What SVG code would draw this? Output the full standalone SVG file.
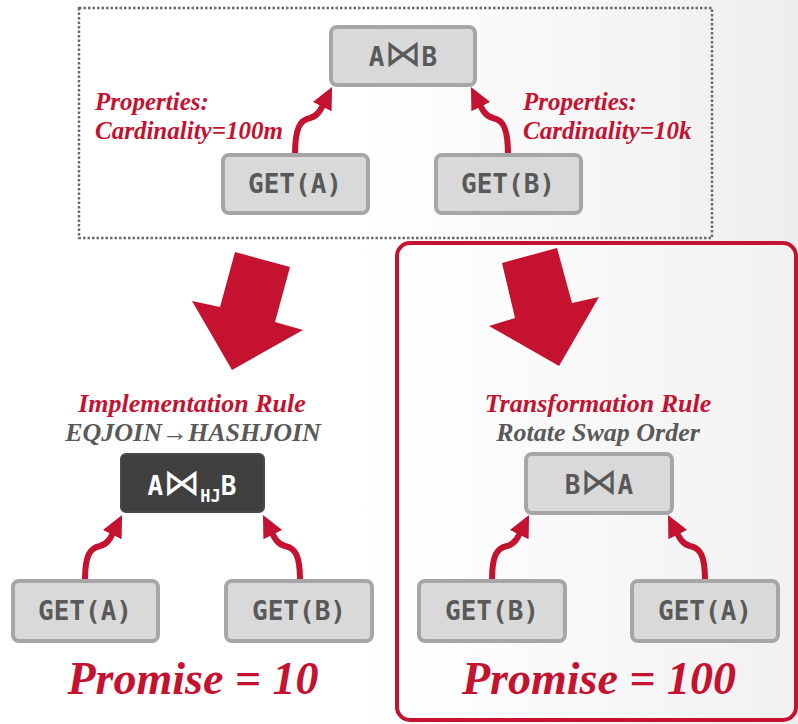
<svg xmlns="http://www.w3.org/2000/svg" width="798" height="724" viewBox="0 0 798 724">
  <defs>
    <linearGradient id="bg" x1="0" y1="0" x2="1" y2="0">
      <stop offset="0.45" stop-color="#ffffff"/>
      <stop offset="1" stop-color="#eeeeee"/>
    </linearGradient>
    <linearGradient id="panelBg" x1="0" y1="0" x2="1" y2="0">
      <stop offset="0" stop-color="#ffffff"/>
      <stop offset="1" stop-color="#f1f1f1"/>
    </linearGradient>
    <marker id="head" viewBox="0 0 22 22" refX="4" refY="11" markerWidth="22" markerHeight="22" markerUnits="userSpaceOnUse" orient="auto">
      <path d="M0,0.5 L22,11 L0,21.5 Z" fill="#c41230"/>
    </marker>
    <style>
      .node rect { fill: #d9d9d9; stroke: #a6a6a6; stroke-width: 4; }
      .node text { fill: #595959; font-family: "DejaVu Sans Mono", "Liberation Mono", monospace; font-size: 26px; font-weight: bold; text-anchor: middle; }
      .dark rect { fill: #404040; stroke: #4a4a4a; stroke-width: 2; }
      .dark text { fill: #ffffff; font-family: "DejaVu Sans Mono", "Liberation Mono", monospace; font-size: 26px; font-weight: bold; text-anchor: middle; }
      .bowtie { font-family: "DejaVu Sans", sans-serif; font-size: 37px; font-weight: normal; }
      .edge { fill: none; stroke: #c41230; stroke-width: 6; marker-end: url(#head); }
      .prop { fill: #c41230; font-family: "Liberation Serif", serif; font-style: italic; font-weight: bold; font-size: 25px; }
      .rule { fill: #c41230; font-family: "Liberation Serif", serif; font-style: italic; font-weight: bold; font-size: 26px; text-anchor: middle; }
      .sub { fill: #595959; font-family: "Liberation Serif", serif; font-style: italic; font-weight: bold; font-size: 26px; text-anchor: middle; }
      .promise { fill: #c41230; font-family: "Liberation Serif", serif; font-style: italic; font-weight: bold; font-size: 46px; text-anchor: middle; }
      .big { fill: #c41230; }
    </style>
  </defs>

  <!-- slide background -->
  <rect x="0" y="0" width="798" height="724" fill="url(#bg)"/>

  <!-- logical plan frame -->
  <rect x="79" y="8" width="633" height="230" fill="none" stroke="#6b6b6b" stroke-width="2.5" stroke-dasharray="2.5 2"/>

  <!-- transformation panel frame -->
  <rect x="397" y="243" width="399" height="477" rx="13" fill="url(#panelBg)" stroke="#c41230" stroke-width="4"/>

  <!-- big direction arrows -->
  <polygon class="big" points="235,252 290,267 275,322 303,330 232,370 192,301 220,307"/>
  <polygon class="big" points="502,263 557,248 572,303 599,297 559,366 489,326 515,318"/>

  <!-- connectors -->
  <g id="connectors">
    <path class="edge" d="M295,155 C295,128 300,120 310,118 C318,116 321,109 324,103"/>
    <path class="edge" d="M508,155 C508,128 503,120 493,118 C485,116 482,109 479,103"/>
    <path class="edge" d="M85,580 C85,555 90,548 100,546 C108,544 111,537 114,531"/>
    <path class="edge" d="M300,580 C300,555 295,548 285,546 C277,544 274,537 271,531"/>
    <path class="edge" d="M492,580 C492,555 497,548 507,546 C515,544 518,537 521,531"/>
    <path class="edge" d="M705,580 C705,555 700,548 690,546 C682,544 679,537 676,531"/>
  </g>

  <!-- logical plan -->
  <g id="join-ab" class="node">
    <rect x="331" y="27" width="144" height="58" rx="6"/>
    <text x="403" y="66">A<tspan class="bowtie">⋈</tspan>B</text>
  </g>
  <g id="get-a-top" class="node">
    <rect x="223" y="155" width="145" height="58" rx="6"/>
    <text x="295" y="193">GET(A)</text>
  </g>
  <g id="get-b-top" class="node">
    <rect x="436" y="155" width="145" height="58" rx="6"/>
    <text x="508" y="193">GET(B)</text>
  </g>
  <g id="props-a">
    <text class="prop" x="95" y="110">Properties:</text>
    <text class="prop" x="95" y="139">Cardinality=100m</text>
  </g>
  <g id="props-b">
    <text class="prop" x="523" y="110">Properties:</text>
    <text class="prop" x="523" y="139">Cardinality=10k</text>
  </g>

  <!-- implementation rule branch -->
  <g id="impl-rule">
    <text class="rule" x="192" y="412">Implementation Rule</text>
    <text class="sub" x="193" y="441">EQJOIN→HASHJOIN</text>
  </g>
  <g id="hashjoin" class="dark">
    <rect x="121" y="454" width="143" height="58" rx="5"/>
    <text x="192" y="495">A<tspan class="bowtie">⋈</tspan><tspan font-size="17" dy="7">HJ</tspan><tspan dy="-7">B</tspan></text>
  </g>
  <g id="get-a-left" class="node">
    <rect x="13" y="581" width="145" height="60" rx="6"/>
    <text x="85" y="620">GET(A)</text>
  </g>
  <g id="get-b-left" class="node">
    <rect x="226" y="581" width="146" height="60" rx="6"/>
    <text x="299" y="620">GET(B)</text>
  </g>
  <text id="promise-10" class="promise" x="193" y="694">Promise = 10</text>

  <!-- transformation rule branch -->
  <g id="xform-rule">
    <text class="rule" x="598" y="412">Transformation Rule</text>
    <text class="sub" x="598" y="441">Rotate Swap Order</text>
  </g>
  <g id="join-ba" class="node">
    <rect x="526" y="454" width="146" height="59" rx="6"/>
    <text x="599" y="494">B<tspan class="bowtie">⋈</tspan>A</text>
  </g>
  <g id="get-b-right" class="node">
    <rect x="419" y="581" width="146" height="60" rx="6"/>
    <text x="492" y="620">GET(B)</text>
  </g>
  <g id="get-a-right" class="node">
    <rect x="632" y="581" width="146" height="60" rx="6"/>
    <text x="705" y="620">GET(A)</text>
  </g>
  <text id="promise-100" class="promise" x="599" y="694">Promise = 100</text>
</svg>
